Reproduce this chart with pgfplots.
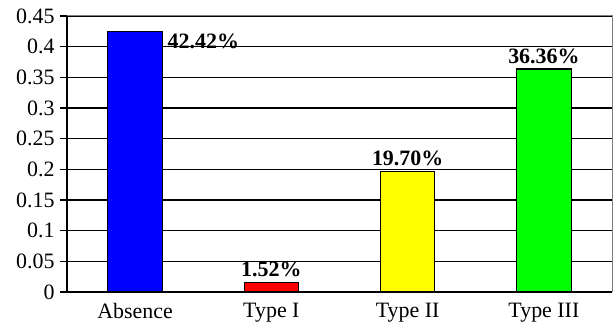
\documentclass[border=0pt]{standalone}
\usepackage{pgfplots}
\pgfplotsset{compat=1.18}
\usepackage{fontspec}
\setmainfont{Liberation Serif}
\begin{document}
\begin{tikzpicture}
\begin{axis}[
  name=ax,
  scale only axis,
  width=545bp, height=276bp,
  xmin=-0.5, xmax=3.5,
  ymin=0, ymax=0.45,
  ytick={0,0.05,0.1,0.15,0.2,0.25,0.3,0.35,0.4,0.45},
  xtick={0,1,2,3},
  xticklabels={Absence,Type I,Type II,Type III},
  minor xtick={-0.5,0.5,1.5,2.5,3.5},
  axis x line*=bottom,
  axis y line*=left,
  axis line style={black, line width=1.3bp, -},
  ymajorgrids,
  major grid style={black, line width=1.3bp},
  tick style={black, line width=1.3bp},
  major tick length=7bp,
  minor tick length=7bp,
  x tick style={draw=none},
  minor x tick style={black, line width=1.3bp},
  tick align=outside,
  font=\fontsize{22}{26}\selectfont,
  tick label style={font=\fontsize{22}{26}\selectfont},
  /pgf/number format/assume math mode=true,
  yticklabel style={/pgf/number format/fixed, /pgf/number format/precision=2, xshift=-2bp},
  xticklabel style={yshift=-1bp},
  bar width=0.4,
  nodes near coords,
  point meta=explicit symbolic,
  every node near coord/.append style={font=\fontsize{22}{26}\selectfont\bfseries, inner sep=1bp, yshift=4bp},
  clip=false,
]
\addplot[ybar, bar shift=0pt, fill={rgb,255:red,0;green,0;blue,255}, draw=black, line width=1.2bp,
  every node near coord/.append style={anchor=west, xshift=31bp, yshift=-14bp}]
  coordinates {(0,0.4242) [42.42\%]};
\addplot[ybar, bar shift=0pt, fill={rgb,255:red,255;green,0;blue,0}, draw=black, line width=1.2bp]
  coordinates {(1,0.0152) [1.52\%]};
\addplot[ybar, bar shift=0pt, fill={rgb,255:red,255;green,255;blue,0}, draw=black, line width=1.2bp]
  coordinates {(2,0.1970) [19.70\%]};
\addplot[ybar, bar shift=0pt, fill={rgb,255:red,0;green,255;blue,0}, draw=black, line width=1.2bp]
  coordinates {(3,0.3636) [36.36\%]};
\draw[gray, line width=1bp] (rel axis cs:0,1) -- (rel axis cs:1,1) -- (rel axis cs:1,0);
\end{axis}
\pgfresetboundingbox
\path ([xshift=-67bp,yshift=-32bp]ax.south west) ([xshift=4bp,yshift=16bp]ax.north east);
\end{tikzpicture}
\end{document}
